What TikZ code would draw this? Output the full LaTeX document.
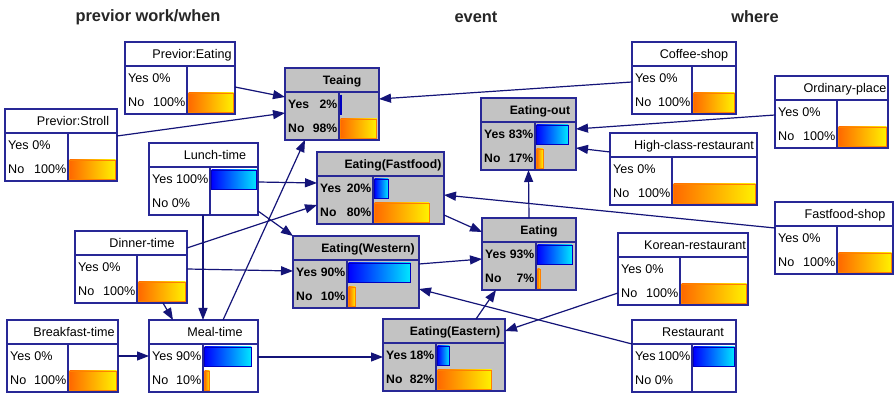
\documentclass[tikz,border=0pt]{standalone}
\usepackage{fontspec}
\setmainfont{Liberation Sans}
\usetikzlibrary{arrows.meta,calc}
\definecolor{bnline}{RGB}{40,40,150}
\definecolor{bnarrow}{RGB}{20,20,120}
\definecolor{bngray}{RGB}{195,195,195}
\definecolor{barblue}{RGB}{0,0,255}
\definecolor{barcyan}{RGB}{0,232,255}
\definecolor{barorange}{RGB}{255,105,0}
\definecolor{baryellow}{RGB}{255,242,0}
\newcommand{\bnfont}{\fontsize{12.6}{14}\selectfont}
\newcommand{\bnboldfont}{\fontsize{12.2}{14}\selectfont\bfseries}

\tikzset{
	bnbox/.style={draw=bnline,line width=1.5pt,inner sep=0pt,outer sep=0pt},
	bnsep/.style={draw=bnline,line width=1.4pt},
	link/.style={draw=bnarrow,line width=1.2pt,-{Triangle[length=12pt,width=9pt]}},
	yesbar/.style={left color=barblue,right color=barcyan,draw=blue!75!black,line width=0.6pt},
	nobar/.style={left color=barorange,right color=baryellow,draw=orange,line width=0.6pt},
	heading/.style={font=\fontsize{16.4}{18}\selectfont\bfseries,text=black!85}
}

\begin{document}
\begin{tikzpicture}[x=1pt,y=-1pt]
	\fill[white] (0,0) rectangle (895,395);
	\useasboundingbox (0,0) rectangle (895,395);

	\node[heading] (hwhen) at (148,17) {previor work/when};
	\node[heading] (hevent) at (476,17) {event};
	\node[heading] (hwhere) at (755,17) {where};

	\foreach \nm/\ev/\xa/\ya/\xb/\xs/\ttl/\tx/\yes/\no in {%
			peat/0/125/42/235/187/Previor:Eating/192/0/100,
			pstroll/0/5/109/117/68/Previor:Stroll/73/0/100,
			teaing/1/285/68/379/339/Teaing/342/2/98,
			lunch/0/149/143/258/210/Lunch-time/215/100/0,
			dinner/0/75/231/187/137/Dinner-time/142/0/100,
			breakfast/0/7/320/118/68/Breakfast-time/74/0/100,
			meal/0/149/320/258/203/Meal-time/215/90/10,
			fastfood/1/317/152/444/373/Eating(Fastfood)/393/20/80,
			western/1/293/236/419/347/Eating(Western)/368/90/10,
			eastern/1/383/319/505/436/Eating(Eastern)/455/18/82,
			eatout/1/481/98/576/535/Eating-out/540/83/17,
			eating/1/482/218/576/536/Eating/539/93/7,
			coffee/0/632/42/736/692/Coffee-shop/694/0/100,
			ordinary/0/775/76/888/837/Ordinary-place/845/0/100,
			highclass/0/610/133/757/672/High-class-restaurant/694/0/100,
			fshop/0/775/202/893/837/Fastfood-shop/845/0/100,
			korean/0/618/233/748/680/Korean-restaurant/695/0/100,
			restaurant/0/632/320/736/692/Restaurant/693/100/0}{
		\ifnum\ev=1 \def\boxfill{bngray}\def\boxfont{\bnboldfont}\else\def\boxfill{white}\def\boxfont{\bnfont}\fi
		\pgfmathsetmacro{\bw}{\xb-\xa}
		\node[bnbox,fill=\boxfill,minimum width=\bw pt,minimum height=72pt] (\nm) at ({(\xa+\xb)/2},\ya+36) {};
		\draw[bnsep] (\xa,\ya+24) -- (\xb,\ya+24) (\xs,\ya+24) -- (\xs,\ya+72);
		\node[font=\boxfont,anchor=base] at (\tx,\ya+16.5) {\ttl};
		% yes row
		\ifnum\yes=0
			\node[font=\boxfont,anchor=base west,inner sep=0pt] at (\xa+3,\ya+40.5) {Yes 0\%};
		\else
			\node[font=\boxfont,anchor=base west,inner sep=0pt] at (\xa+3,\ya+40.5) {Yes};
			\node[font=\boxfont,anchor=base east,inner sep=0pt] at (\xs-1.5,\ya+40.5) {\yes\%};
			\shade[yesbar] (\xs+1.5,\ya+27) rectangle ({\xs+1.5+\yes/100*(\xb-\xs-3)},\ya+46);
		\fi
		% no row
		\ifnum\no=0
			\node[font=\boxfont,anchor=base west,inner sep=0pt] at (\xa+3,\ya+64.5) {No 0\%};
		\else
			\node[font=\boxfont,anchor=base west,inner sep=0pt] at (\xa+3,\ya+64.5) {No};
			\node[font=\boxfont,anchor=base east,inner sep=0pt] at (\xs-1.5,\ya+64.5) {\no\%};
			\shade[nobar] (\xs+1.5,\ya+51) rectangle ({\xs+1.5+\no/100*(\xb-\xs-3)},\ya+70);
		\fi
	}

	\draw[link] ($(peat.north east)+(0,45)$) -- ($(teaing.north west)+(0,29)$);
	\draw[link] ($(pstroll.north east)+(0,27)$) -- ($(teaing.north west)+(0,45)$);
	\draw[link] ($(coffee.north west)+(0,40)$) -- ($(teaing.north east)+(0,31)$);
	\draw[link] ($(meal.north west)+(74,0)$) -- ($(teaing.south west)+(20,0)$);
	\draw[link] ($(ordinary.north west)+(0,39)$) -- ($(eatout.north east)+(0,31)$);
	\draw[link] ($(highclass.north west)+(0,19)$) -- ($(eatout.north east)+(0,50)$);
	\draw[link] (eating.north) -- (eatout.south);
	\draw[link] ($(fshop.north west)+(0,26)$) -- ($(fastfood.north east)+(0,43)$);
	\draw[link] ($(lunch.north east)+(0,39)$) -- ($(fastfood.north west)+(0,31)$);
	\draw[link] ($(dinner.north east)+(0,17)$) -- ($(fastfood.north west)+(0,53)$);
	\draw[link] ($(fastfood.north east)+(0,63)$) -- ($(eating.north west)+(0,14)$);
	\draw[link] ($(western.north east)+(0,28)$) -- ($(eating.north west)+(0,41)$);
	\draw[link] ($(eastern.north west)+(93,0)$) -- ($(eating.south west)+(14,0)$);
	\draw[link] ($(lunch.south east)+(0,-4)$) -- (western.north west);
	\draw[link] ($(dinner.north east)+(0,38)$) -- ($(western.north west)+(0,35)$);
	\draw[link] ($(restaurant.north west)+(0,24)$) -- ($(western.north east)+(0,53)$);
	\draw[link] ($(korean.north west)+(0,60)$) -- ($(eastern.north east)+(0,12)$);
	\draw[link] ($(meal.north east)+(0,37)$) -- ($(eastern.north west)+(0,38)$);
	\draw[link] ($(breakfast.north east)+(0,36)$) -- ($(meal.north west)+(0,36)$);
	\draw[link] ($(lunch.south west)+(54,0)$) -- ($(meal.north west)+(54,0)$);
	\draw[link] ($(dinner.south west)+(88,0)$) -- ($(meal.north west)+(24,0)$);
\end{tikzpicture}
\end{document}
